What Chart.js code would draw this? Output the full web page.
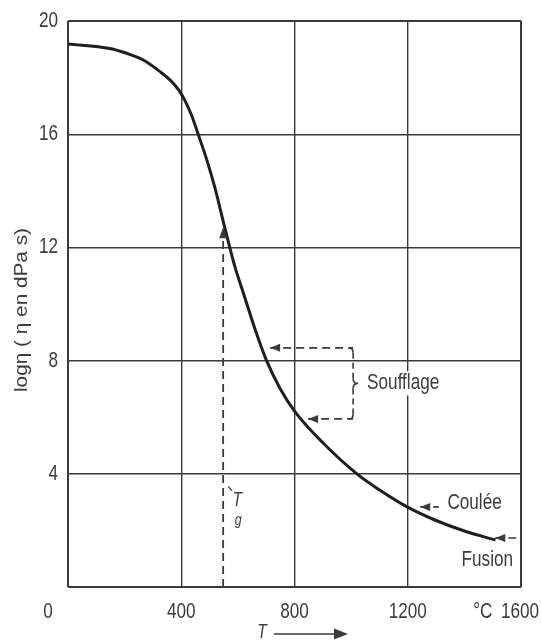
<!DOCTYPE html>
<html>
<head>
<meta charset="utf-8">
<script src="https://cdn.jsdelivr.net/npm/chart.js@4.4.1/dist/chart.umd.min.js"></script>
<style>
  html, body { margin: 0; padding: 0; background: #fff; }
  canvas { display: block; }
</style>
</head>
<body>
<canvas id="chart" width="541" height="642"></canvas>
<script>
// viscosity curve
const temps = [0, 148, 207, 266, 325, 360, 392, 415, 437, 458, 490, 519, 555, 590, 619, 661, 702, 750, 802, 902, 1025, 1102, 1196, 1300, 1400, 1510];
const logEta = [19.19, 19.03, 18.86, 18.62, 18.21, 17.92, 17.55, 17.15, 16.65, 16.05, 15.1, 14.1, 12.65, 11.3, 10.4, 9.1, 7.98, 7.0, 6.19, 5.08, 3.96, 3.42, 2.84, 2.35, 1.98, 1.66];

const xTicks = ["0", "400", "800", "1200", "1600"];
const yTicks = ["4", "8", "12", "16", "20"];

// glass transition marker
const tgX = [548, 548];
const tgY = [0, 12.5];

// working range pointers
const soufflageTop = [[714, 8.45], [1007, 8.45]];
const soufflageBottom = [[848, 5.94], [1007, 5.94]];
const couleeArrow = [[1244, 2.83], [1310, 2.83]];
const fusionArrow = [[1509, 1.73], [1590, 1.73]];

const FONT = '"Liberation Sans", Arimo, sans-serif';
const INK = "#3a3a3a";
const TXT = "#3c3c3c";
const SQ = 0.78; // squeeze text horizontally, the original uses a narrow face

function arrowHead(ctx, x, y, dir, size) {
  ctx.beginPath();
  ctx.moveTo(x, y);
  ctx.lineTo(x - dir * size, y - size * 0.4);
  ctx.lineTo(x - dir * size, y + size * 0.4);
  ctx.closePath();
  ctx.fill();
}

function txt(ctx, s, x, y, size, align, italic, sq) {
  ctx.save();
  ctx.font = (italic ? "italic " : "") + size + "px " + FONT;
  ctx.textAlign = align || "left";
  ctx.textBaseline = "middle";
  ctx.translate(x, y);
  ctx.scale(sq || SQ, 1);
  ctx.fillText(s, 0, 0);
  ctx.restore();
}

function txtWidth(ctx, s, size) {
  ctx.save();
  ctx.font = size + "px " + FONT;
  const w = ctx.measureText(s).width * SQ;
  ctx.restore();
  return w;
}

const decor = {
  id: "decor",
  afterDatasetsDraw(chart) {
    const ctx = chart.ctx;
    const xs = chart.scales.x, ys = chart.scales.y;
    const px = v => xs.getPixelForValue(v);
    const py = v => ys.getPixelForValue(v);
    ctx.save();
    ctx.fillStyle = TXT;

    // y tick labels
    yTicks.forEach(t => txt(ctx, t, 58, py(Number(t)), 22, "right"));

    // x tick labels
    const ly = 612;
    xTicks.forEach(t => {
      let x = px(Number(t));
      if (t === "0") x -= 20;
      if (t === "1600") x = 520;
      txt(ctx, t, x, ly, 22, "center");
    });
    txt(ctx, "°C", px(1465), ly, 22, "center");

    // axis titles
    ctx.save();
    ctx.translate(22, 310);
    ctx.rotate(-Math.PI / 2);
    const title = "log\u03B7 ( \u03B7 en dPa s)";
    ctx.font = "19px " + FONT;
    const sqT = 164 / ctx.measureText(title).width;
    txt(ctx, title, 0, 0, 19, "center", false, sqT);
    ctx.restore();

    txt(ctx, "T", 262, 632, 20, "center", true);
    ctx.strokeStyle = INK;
    ctx.fillStyle = INK;
    ctx.lineWidth = 1.6;
    ctx.beginPath();
    ctx.moveTo(274, 634);
    ctx.lineTo(336, 634);
    ctx.stroke();
    arrowHead(ctx, 348, 634, 1, 14);

    // arrow heads
    const tx = px(tgX[1]), ty = py(tgY[1]);
    ctx.beginPath();
    ctx.moveTo(tx, ty - 6);
    ctx.lineTo(tx - 4, ty + 5);
    ctx.lineTo(tx + 4, ty + 5);
    ctx.closePath();
    ctx.fill();
    arrowHead(ctx, px(soufflageTop[0][0]), py(soufflageTop[0][1]), -1, 10);
    arrowHead(ctx, px(soufflageBottom[0][0]), py(soufflageBottom[0][1]), -1, 10);
    arrowHead(ctx, px(couleeArrow[0][0]), py(couleeArrow[0][1]), -1, 10);
    arrowHead(ctx, px(fusionArrow[0][0]), py(fusionArrow[0][1]), -1, 10);

    // brace
    const bx = px(soufflageTop[1][0]);
    const bt = py(soufflageTop[1][1]), bb = py(soufflageBottom[1][1]);
    const bm = (bt + bb) / 2;
    ctx.lineWidth = 1.6;
    ctx.setLineDash([6, 4]);
    ctx.beginPath();
    ctx.moveTo(bx, bt + 5);
    ctx.lineTo(bx, bm - 5);
    ctx.moveTo(bx, bm + 5);
    ctx.lineTo(bx, bb - 5);
    ctx.stroke();
    ctx.setLineDash([]);
    ctx.beginPath();
    ctx.moveTo(bx - 4, bt);
    ctx.quadraticCurveTo(bx, bt, bx, bt + 5);
    ctx.moveTo(bx - 4, bb);
    ctx.quadraticCurveTo(bx, bb, bx, bb - 5);
    ctx.moveTo(bx, bm - 5);
    ctx.quadraticCurveTo(bx, bm, bx + 5, bm);
    ctx.quadraticCurveTo(bx, bm, bx, bm + 5);
    ctx.stroke();

    // text labels with white backing so the grid breaks round them
    const label = (s, x, y) => {
      const w = txtWidth(ctx, s, 22);
      ctx.fillStyle = "#fff";
      ctx.fillRect(x - 5, y - 12, w + 10, 24);
      ctx.fillStyle = TXT;
      txt(ctx, s, x, y, 22, "left");
    };
    label("Soufflage", bx + 14, bm);
    label("Coulée", px(1340), py(couleeArrow[0][1]) - 4);
    label("Fusion", px(1390), py(0.95));

    // T_g label
    ctx.fillStyle = TXT;
    txt(ctx, "T", tx + 14, py(3.05), 20, "center", true);
    txt(ctx, "g", tx + 15, py(2.35), 16, "center", true);
    ctx.strokeStyle = TXT;
    ctx.lineWidth = 1.2;
    ctx.beginPath();
    ctx.moveTo(tx + 5, py(3.55));
    ctx.lineTo(tx + 9, py(3.4));
    ctx.stroke();
    ctx.restore();
  }
};

const toPts = arr => arr.map(p => ({ x: p[0], y: p[1] }));
const dashed = (pts, w) => ({
  data: pts, borderColor: INK, borderWidth: w || 1.6, borderDash: [8, 5],
  pointRadius: 0, fill: false, tension: 0
});

new Chart(document.getElementById("chart"), {
  type: "line",
  data: {
    datasets: [
      {
        data: temps.map((t, i) => ({ x: t, y: logEta[i] })),
        borderColor: "#1f1f1f",
        borderWidth: 3,
        pointRadius: 0,
        cubicInterpolationMode: "monotone",
        fill: false
      },
      dashed(tgX.map((x, i) => ({ x: x, y: tgY[i] })), 1.8),
      dashed(toPts(soufflageTop)),
      dashed(toPts(soufflageBottom)),
      dashed(toPts(couleeArrow)),
      dashed(toPts(fusionArrow))
    ]
  },
  options: {
    responsive: false,
    animation: false,
    layout: { padding: { left: 68, right: 20, top: 21, bottom: 55 } },
    plugins: { legend: { display: false }, tooltip: { enabled: false } },
    scales: {
      x: {
        type: "linear", min: 0, max: 1600,
        ticks: { display: false, stepSize: 400 },
        grid: {
          color: INK,
          lineWidth: c => (c.tick && (c.tick.value === 0 || c.tick.value === 1600)) ? 2 : 1.4,
          drawTicks: false
        },
        border: { display: false }
      },
      y: {
        type: "linear", min: 0, max: 20,
        ticks: { display: false, stepSize: 4 },
        grid: {
          color: INK,
          lineWidth: c => (c.tick && (c.tick.value === 0 || c.tick.value === 20)) ? 2 : 1.4,
          drawTicks: false
        },
        border: { display: false }
      }
    }
  },
  plugins: [decor]
});
</script>
</body>
</html>
